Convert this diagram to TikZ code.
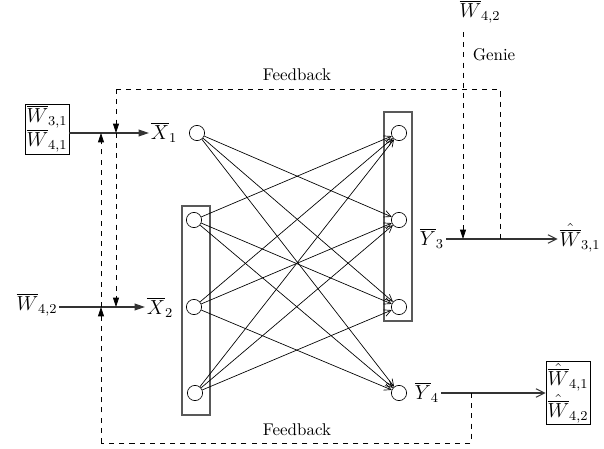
\documentclass[tikz,border=0pt]{standalone}
\usetikzlibrary{arrows.meta,positioning,calc}
\tikzset{
  nd/.style={circle,draw,thin,minimum size=9pt,inner sep=0pt},
  grpbox/.style={draw=black!65,line width=0.8pt},
  lblbox/.style={draw,thin,inner sep=1pt,align=center},
  mlbl/.style={font=\large,inner sep=1pt},
  edge/.style={-{Straight Barb[length=4pt,width=4pt]},thin},
  inarr/.style={-{Triangle[length=6pt,width=4pt]},semithick,black!80},
  outarr/.style={-{Straight Barb[length=5pt,width=5pt]},semithick,black!80},
  dsh/.style={dashed,thin},
  dsharr/.style={dsh,-{Triangle[length=5.5pt,width=3.5pt]}}
}
\begin{document}
\begin{tikzpicture}[x=0.59pt,y=-0.59pt]
  \useasboundingbox (0,0) rectangle (604,449);

  % channel nodes
  \node[nd] (in1) at (197,133) {};
  \node[nd] (s1) at (194,220) {};
  \node[nd] (s2) at (194,307) {};
  \node[nd] (s3) at (195,393) {};
  \node[nd] (r1) at (399,133) {};
  \node[nd] (r2) at (399,220) {};
  \node[nd] (r3) at (399,307) {};
  \node[nd] (r4) at (399,393) {};
  \draw[grpbox] (182,206) rectangle (210,415);
  \draw[grpbox] (384,112) rectangle (412,321);

  \foreach \s/\t in {in1/r2,in1/r3,in1/r4,s1/r1,s1/r3,s1/r4,s2/r1,s2/r2,s2/r4,s3/r1,s3/r2,s3/r3}
    \draw[edge] (\s) -- (\t);

  % labels
  \node[lblbox,mlbl] (wbox) at (47,129) {$\overline{W}_{3,1}$\\$\overline{W}_{4,1}$};
  \node[lblbox,mlbl] (whbox) at (568,393) {$\hat{\overline{W}}_{4,1}$\\[1pt]$\hat{\overline{W}}_{4,2}$};
  \node[mlbl] (x1) at (164,132) {$\overline{X}_1$};
  \node[mlbl] (x2) at (160,307) {$\overline{X}_2$};
  \node[mlbl] (w42in) at (37,305) {$\overline{W}_{4,2}$};
  \node[mlbl] (w42top) at (480,12) {$\overline{W}_{4,2}$};
  \node[mlbl] (y3) at (432,238) {$\overline{Y}_3$};
  \node[mlbl] (y4) at (427,392) {$\overline{Y}_4$};
  \node[mlbl] (w31hat) at (580,238) {$\hat{\overline{W}}_{3,1}$};
  \node (fbtop) at (297,75) {Feedback};
  \node (fbbot) at (297,430) {Feedback};
  \node (genie) at (494,55) {Genie};

  \coordinate (tl) at (116,89);
  \coordinate (tr) at (500,89);
  \coordinate (bl) at (101,443);
  \coordinate (br) at (471,443);
  \coordinate (gn) at (463,32);

  % inputs and outputs
  \draw[inarr] (wbox.east |- in1) -- (x1.west |- in1);
  \draw[inarr] (w42in.east |- s2) -- (x2.west |- s2);
  \draw[outarr] (y3.east |- 0,239) -- (w31hat.west |- 0,239);
  \draw[outarr] (y4.east |- s3) -- (whbox.west |- s3);

  % feedback and genie
  \draw[dsh] (tl) -- (tr) -- (tr |- 0,239);
  \draw[dsharr] (tl) -- (tl |- in1);
  \draw[dsharr] (tl |- in1) -- (tl |- s2);
  \draw[dsh] (br |- s3) -- (br) -- (bl);
  \draw[dsharr] (bl) -- (bl |- s2);
  \draw[dsharr] (bl |- s2) -- (bl |- in1);
  \draw[dsharr] (gn) -- (gn |- 0,239);
\end{tikzpicture}
\end{document}
